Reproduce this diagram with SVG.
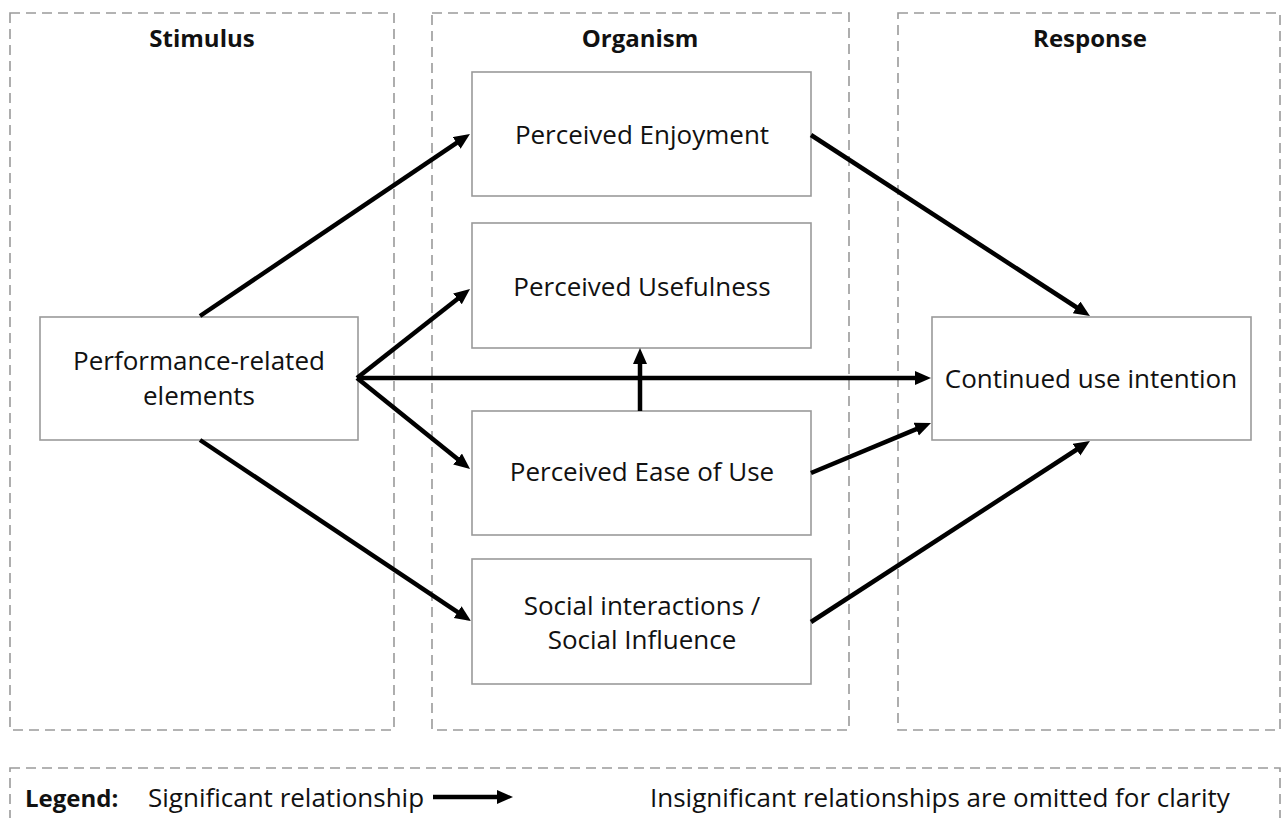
<svg xmlns="http://www.w3.org/2000/svg" width="1282" height="818" viewBox="0 0 1282 818">
<style>
.panel{fill:none;stroke:#9a9a9a;stroke-width:1.6;stroke-dasharray:10 6}
.box{fill:#fff;stroke:#9a9a9a;stroke-width:1.6}
.t{font-family:"Open Sans","Noto Sans",sans-serif;font-size:26px;fill:#111;text-anchor:middle}
.h{font-family:"Open Sans","Noto Sans",sans-serif;font-size:24px;font-weight:bold;fill:#111;text-anchor:middle}
.c{stroke:#000;stroke-width:4.5;fill:none;marker-end:url(#ah)}
</style>
<defs>
<marker id="ah" markerUnits="userSpaceOnUse" markerWidth="18" markerHeight="16" refX="4" refY="7" orient="auto">
<path d="M0,0 L16,7 L0,14 z" fill="#000"/>
</marker>
</defs>
<rect width="1282" height="818" fill="#fff"/>
<g id="stimulus-panel"><rect class="panel" x="10" y="13" width="384" height="717"/><text class="h" x="202" y="47">Stimulus</text></g>
<g id="organism-panel"><rect class="panel" x="432" y="13" width="417" height="717"/><text class="h" x="640" y="47">Organism</text></g>
<g id="response-panel"><rect class="panel" x="898" y="13" width="382" height="717"/><text class="h" x="1090" y="47">Response</text></g>
<g id="performance"><rect class="box" x="40" y="317" width="318" height="123"/><text class="t" x="199" y="370">Performance-related</text><text class="t" x="199" y="405">elements</text></g>
<g id="enjoyment"><rect class="box" x="472" y="72" width="339" height="124"/><text class="t" x="642" y="144">Perceived Enjoyment</text></g>
<g id="usefulness"><rect class="box" x="472" y="223" width="339" height="125"/><text class="t" x="642" y="296">Perceived Usefulness</text></g>
<g id="ease"><rect class="box" x="472" y="411" width="339" height="124"/><text class="t" x="642" y="481">Perceived Ease of Use</text></g>
<g id="social"><rect class="box" x="472" y="559" width="339" height="125"/><text class="t" x="642" y="615">Social interactions /</text><text class="t" x="642" y="649">Social Influence</text></g>
<g id="continued"><rect class="box" x="932" y="317" width="319" height="123"/><text class="t" x="1091" y="388">Continued use intention</text></g>
<g id="connectors">
<line class="c" x1="200" y1="316" x2="460" y2="140.7"/>
<line class="c" x1="357" y1="378" x2="460.6" y2="296.4"/>
<line class="c" x1="357" y1="378" x2="919" y2="378"/>
<line class="c" x1="357" y1="378" x2="460.7" y2="461.5"/>
<line class="c" x1="200" y1="440" x2="461" y2="614.3"/>
<line class="c" x1="640" y1="411" x2="640" y2="360"/>
<line class="c" x1="811" y1="135" x2="1079.9" y2="309.5"/>
<line class="c" x1="811" y1="473" x2="919.9" y2="427.6"/>
<line class="c" x1="811" y1="622" x2="1079.9" y2="447.5"/>
</g>
<g id="legend">
<rect class="panel" x="10" y="768" width="1270" height="60"/>
<text class="h" x="25" y="807" style="text-anchor:start">Legend:</text>
<text class="t" x="148" y="807" style="text-anchor:start">Significant relationship</text>
<line class="c" x1="433" y1="797" x2="501" y2="797"/>
<text class="t" x="650" y="807" style="text-anchor:start">Insignificant relationships are omitted for clarity</text>
</g>
</svg>
